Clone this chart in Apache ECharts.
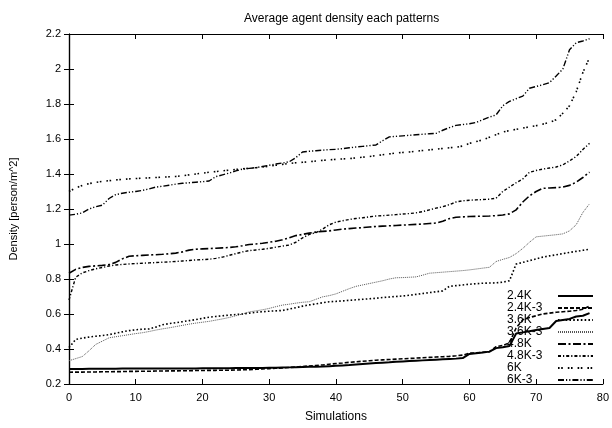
<!DOCTYPE html>
<html><head><meta charset="utf-8">
<script src="https://cdn.jsdelivr.net/npm/echarts@6/dist/echarts.min.js"></script>
<style>html,body{margin:0;padding:0;background:#fff}#c{width:612px;height:428px}</style>
</head><body><div id="c"></div>
<script>
const titleText = "Average agent density each patterns";
const xName = "Simulations";
const yName = "Density [person/m^2]";
const seriesNames = ["2.4K","2.4K-3","3.6K","3.6K-3","4.8K","4.8K-3","6K","6K-3"];
const xTicks = [0,10,20,30,40,50,60,70,80];
const yTicks = [0.2,0.4,0.6,0.8,1,1.2,1.4,1.6,1.8,2,2.2];

const s24K = [0.286,0.286,0.286,0.287,0.287,0.287,0.287,0.287,0.288,0.288,
0.288,0.288,0.288,0.288,0.289,0.289,0.289,0.289,0.289,0.289,
0.29,0.29,0.29,0.29,0.29,0.291,0.291,0.291,0.292,0.292,
0.293,0.293,0.294,0.295,0.296,0.297,0.298,0.299,0.300,0.302,
0.304,0.306,0.308,0.311,0.314,0.317,0.320,0.322,0.324,0.327,
0.329,0.331,0.333,0.335,0.337,0.339,0.341,0.343,0.345,0.348,
0.372,0.376,0.380,0.385,0.405,0.410,0.417,0.488,0.495,0.502,
0.508,0.514,0.520,0.560,0.566,0.572,0.586,0.590,0.605];
const s24K3 = [0.267,0.268,0.268,0.269,0.269,0.270,0.270,0.271,0.271,0.272,
0.272,0.273,0.273,0.274,0.274,0.275,0.275,0.276,0.276,0.277,
0.277,0.278,0.278,0.279,0.279,0.280,0.281,0.282,0.284,0.286,
0.288,0.290,0.292,0.294,0.297,0.300,0.303,0.306,0.309,0.313,
0.317,0.320,0.324,0.327,0.330,0.333,0.336,0.338,0.340,0.342,
0.344,0.346,0.348,0.350,0.352,0.354,0.356,0.358,0.361,0.365,
0.376,0.378,0.381,0.384,0.413,0.420,0.436,0.520,0.567,0.580,
0.590,0.600,0.605,0.610,0.613,0.616,0.620,0.627,0.645];
const s36K = [0.408,0.455,0.462,0.468,0.473,0.477,0.482,0.490,0.498,0.505,
0.510,0.513,0.515,0.525,0.539,0.545,0.550,0.556,0.562,0.568,
0.575,0.582,0.586,0.590,0.594,0.597,0.600,0.605,0.610,0.613,
0.616,0.618,0.620,0.628,0.636,0.645,0.652,0.658,0.664,0.670,
0.672,0.675,0.678,0.681,0.684,0.687,0.690,0.694,0.697,0.700,
0.703,0.707,0.712,0.717,0.722,0.727,0.732,0.758,0.762,0.766,
0.770,0.773,0.776,0.777,0.778,0.782,0.790,0.885,0.895,0.905,
0.915,0.925,0.932,0.938,0.945,0.952,0.958,0.964,0.970];
const s36K3 = [0.333,0.345,0.357,0.390,0.426,0.445,0.464,0.470,0.476,0.482,
0.488,0.493,0.500,0.508,0.515,0.521,0.528,0.535,0.542,0.548,
0.553,0.558,0.565,0.572,0.580,0.590,0.600,0.612,0.618,0.624,
0.632,0.642,0.651,0.656,0.662,0.667,0.670,0.684,0.698,0.705,
0.715,0.730,0.745,0.758,0.766,0.774,0.782,0.790,0.800,0.807,
0.808,0.810,0.812,0.822,0.833,0.836,0.839,0.842,0.845,0.848,
0.852,0.857,0.862,0.867,0.900,0.912,0.923,0.945,0.975,1.010,
1.041,1.045,1.049,1.053,1.058,1.075,1.110,1.180,1.230];
const s48K = [0.833,0.855,0.866,0.872,0.875,0.878,0.882,0.895,0.915,0.930,
0.933,0.935,0.937,0.939,0.941,0.944,0.948,0.955,0.965,0.970,
0.972,0.974,0.976,0.978,0.980,0.984,0.990,0.997,1.000,1.004,
1.010,1.016,1.024,1.035,1.048,1.055,1.062,1.068,1.072,1.075,
1.080,1.085,1.088,1.091,1.094,1.097,1.100,1.102,1.104,1.106,
1.108,1.110,1.112,1.114,1.117,1.120,1.130,1.145,1.153,1.155,
1.157,1.158,1.159,1.160,1.162,1.166,1.172,1.195,1.240,1.275,
1.300,1.318,1.320,1.322,1.325,1.335,1.353,1.380,1.410];
const s48K3 = [0.680,0.810,0.835,0.848,0.858,0.866,0.874,0.880,0.883,0.886,
0.888,0.890,0.892,0.894,0.896,0.898,0.900,0.903,0.906,0.909,
0.911,0.913,0.918,0.925,0.935,0.945,0.955,0.962,0.966,0.970,
0.975,0.982,0.988,0.994,1.010,1.035,1.055,1.065,1.085,1.110,
1.125,1.133,1.140,1.146,1.150,1.155,1.160,1.162,1.165,1.168,
1.171,1.174,1.178,1.185,1.195,1.205,1.213,1.225,1.240,1.247,
1.250,1.252,1.254,1.256,1.262,1.300,1.325,1.350,1.372,1.410,
1.420,1.428,1.434,1.440,1.452,1.475,1.500,1.540,1.575];
const s6K = [1.300,1.320,1.335,1.345,1.352,1.358,1.362,1.366,1.369,1.372,
1.374,1.376,1.378,1.380,1.382,1.384,1.386,1.390,1.395,1.400,
1.405,1.410,1.414,1.418,1.422,1.426,1.430,1.433,1.436,1.440,
1.445,1.450,1.455,1.460,1.464,1.467,1.470,1.474,1.478,1.481,
1.484,1.486,1.488,1.492,1.496,1.500,1.505,1.510,1.515,1.520,
1.523,1.526,1.530,1.534,1.538,1.542,1.546,1.550,1.553,1.560,
1.575,1.585,1.595,1.610,1.625,1.640,1.648,1.655,1.662,1.670,
1.676,1.685,1.695,1.710,1.747,1.790,1.870,1.980,2.065];
const s6K3 = [1.165,1.170,1.178,1.200,1.213,1.222,1.260,1.282,1.290,1.296,
1.300,1.306,1.315,1.325,1.330,1.336,1.342,1.347,1.350,1.353,
1.356,1.360,1.385,1.395,1.405,1.418,1.428,1.432,1.436,1.443,
1.450,1.457,1.463,1.470,1.494,1.526,1.530,1.533,1.536,1.539,
1.541,1.545,1.550,1.554,1.558,1.562,1.566,1.590,1.612,1.615,
1.618,1.621,1.624,1.627,1.630,1.632,1.650,1.665,1.678,1.683,
1.687,1.695,1.710,1.725,1.738,1.790,1.815,1.830,1.845,1.890,
1.900,1.910,1.922,1.960,2.000,2.110,2.150,2.160,2.173];

const allValues = [s24K,s24K3,s36K,s36K3,s48K,s48K3,s6K,s6K3];
const styles = [
  {width:2, type:'solid'},
  {width:1.6, type:[4,2]},
  {width:1.6, type:[1.6,2.2]},
  {width:1, type:[1,1], color:'#555'},
  {width:1.6, type:[8,2.5,2,2.5]},
  {width:1.4, type:[3,2,1.2,2]},
  {width:1.6, type:[1.6,1.6,1.6,5]},
  {width:1.4, type:[6,2,1.2,2,1.2,2]}
];

const FONT = 'Liberation Sans, Arial, Helvetica, sans-serif';
const chart = echarts.init(document.getElementById('c'), null, {renderer:'canvas'});
const fmt = v => String(parseFloat(Number(v).toFixed(1)));

const series = seriesNames.map((n,k)=>({
  name:n, type:'line', symbol:'none', showSymbol:false, animation:false,
  data: allValues[k].map((v,i)=>[i,v]),
  lineStyle:{color: styles[k].color || '#000', width:styles[k].width, type:styles[k].type, cap:'butt'},
  itemStyle:{color: styles[k].color || '#000'},
  z: 10-k
}));

chart.setOption({
  animation:false,
  backgroundColor:'#fff',
  title:{text:titleText, left:239, top:8, textStyle:{fontFamily:FONT, fontSize:12, fontWeight:'normal', color:'#000'}},
  grid:{left:67, right:6, top:34, bottom:36, containLabel:false},
  legend:{
    orient:'vertical', left:507, top:290, padding:0, itemGap:0, itemWidth:35, itemHeight:12, align:'right',
    icon:'inherit',
    itemStyle:{color:'transparent', borderWidth:0, opacity:0},
    formatter: name => '{a|' + name + '}',
    textStyle:{fontFamily:FONT, fontSize:12, color:'#000', lineHeight:12, padding:0,
      rich:{a:{fontFamily:FONT, fontSize:12, color:'#000', width:46, align:'left', lineHeight:12}}},
    data: seriesNames
  },
  xAxis:[{
    type:'value', min:0, max:80, interval:10,
    name:xName, nameLocation:'middle', nameGap:27,
    nameTextStyle:{fontFamily:FONT, fontSize:12, color:'#000'},
    axisLine:{show:true, lineStyle:{color:'#000', width:1.2}},
    axisTick:{show:true, inside:true, length:5, lineStyle:{color:'#000'}},
    axisLabel:{fontFamily:FONT, fontSize:11, color:'#000', margin:8, formatter:fmt},
    splitLine:{show:false}
  },{
    type:'value', min:0, max:80, interval:10, position:'top',
    axisLine:{show:true, lineStyle:{color:'#000', width:1.2}},
    axisTick:{show:true, inside:true, length:5, lineStyle:{color:'#000'}},
    axisLabel:{show:false}, splitLine:{show:false}
  }],
  yAxis:[{
    type:'value', min:0.2, max:2.2, interval:0.2,
    name:yName, nameLocation:'middle', nameGap:50,
    nameTextStyle:{fontFamily:FONT, fontSize:11, color:'#000'},
    axisLine:{show:true, lineStyle:{color:'#000', width:1.2}},
    axisTick:{show:true, inside:true, length:5, lineStyle:{color:'#000'}},
    axisLabel:{fontFamily:FONT, fontSize:11, color:'#000', margin:8, formatter:fmt},
    splitLine:{show:false}
  },{
    type:'value', min:0.2, max:2.2, interval:0.2, position:'right',
    axisLine:{show:true, lineStyle:{color:'#000', width:1.2}},
    axisTick:{show:true, inside:true, length:5, lineStyle:{color:'#000'}},
    axisLabel:{show:false}, splitLine:{show:false}
  }],
  series: series
});
</script></body></html>
